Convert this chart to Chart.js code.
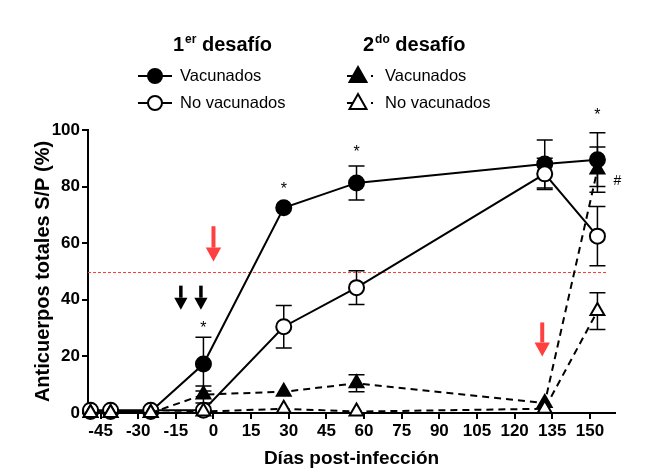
<!DOCTYPE html>
<html>
<head>
<meta charset="utf-8">
<script src="https://cdn.jsdelivr.net/npm/chart.js@4.4.1/dist/chart.umd.min.js"></script>
<style>
  body { margin: 0; background: #fff; }
</style>
</head>
<body>
<canvas id="chart" width="664" height="476"></canvas>
<script>
// days post-infection for every series
const days = [-49, -41, -25, -4, 28, 57, 132, 153];

// 1er desafío
const vacunados1 = [0.5, 0.5, 0.5, 17.3, 72.5, 81.3, 88, 89.5];
const vacunados1Err = [0, 0, 0, 9.5, 0, 6, 8.5, 9.5];
const noVacunados1 = [1, 1, 1, 1, 30.5, 44.3, 84.5, 62.5];
const noVacunados1Err = [0, 0, 0, 0, 7.5, 6, 5.5, 10.5];

// 2do desafío
const vacunados2 = [0, 0, 0, 6.5, 7.5, 10.5, 3.5, 86];
const vacunados2Err = [0, 0, 0, 3, 0, 3, 0, 8];
const noVacunados2 = [0, 0, 0, 0.5, 1.5, 0.5, 1.5, 36];
const noVacunados2Err = [0, 0, 0, 0, 0, 0, 0, 6.5];

const xTicks = [-45, -30, -15, 0, 15, 30, 45, 60, 75, 90, 105, 120, 135, 150];
const yTicks = [0, 20, 40, 60, 80, 100];

// significance marks, arrows
const stars = [[-4, 31], [28, 80], [57, 93], [153, 106]];
const hashMark = [161, 82];
const blackArrows = [[-13, 45, 36.5], [-5, 45, 36.5]];
const redArrows = [[0, 66, 53.5], [131, 32, 20]];

const FONT = "'Liberation Sans', Arial, sans-serif";

function pts(vals) {
  return days.map((d, i) => ({ x: d, y: vals[i] }));
}

const errorBars = {
  id: 'errorBars',
  beforeDatasetsDraw(chart) {
    const { ctx, scales: { x, y } } = chart;
    ctx.save();
    ctx.strokeStyle = '#000';
    ctx.lineWidth = 1.5;
    chart.data.datasets.forEach(ds => {
      ds.data.forEach((p, i) => {
        const e = ds.errors[i];
        if (!e) return;
        const px = x.getPixelForValue(p.x);
        const t = y.getPixelForValue(p.y + e);
        const b = y.getPixelForValue(p.y - e);
        ctx.beginPath();
        ctx.moveTo(px, t); ctx.lineTo(px, b);
        ctx.moveTo(px - 8, t); ctx.lineTo(px + 8, t);
        ctx.moveTo(px - 8, b); ctx.lineTo(px + 8, b);
        ctx.stroke();
      });
    });
    ctx.restore();
  }
};

function arrow(ctx, x, y1, y2, color, w, head) {
  ctx.fillStyle = color;
  ctx.strokeStyle = color;
  ctx.lineWidth = w;
  ctx.beginPath();
  ctx.moveTo(x, y1); ctx.lineTo(x, y2 - head);
  ctx.stroke();
  ctx.beginPath();
  ctx.moveTo(x - head * 0.55, y2 - head);
  ctx.lineTo(x + head * 0.55, y2 - head);
  ctx.lineTo(x, y2);
  ctx.closePath();
  ctx.fill();
}

const marks = {
  id: 'marks',
  beforeDatasetsDraw(chart) {
    const { ctx, scales: { x, y } } = chart;
    const ry = Math.round(y.getPixelForValue(50)) + 0.5;
    ctx.save();
    ctx.strokeStyle = '#ff3b3b';
    ctx.lineWidth = 1;
    ctx.setLineDash([3, 2]);
    ctx.beginPath();
    ctx.moveTo(x.getPixelForValue(-50), ry);
    ctx.lineTo(x.getPixelForValue(157), ry);
    ctx.stroke();
    ctx.restore();
  },
  afterDraw(chart) {
    const { ctx, scales: { x, y } } = chart;
    ctx.save();
    blackArrows.forEach(a => arrow(ctx, x.getPixelForValue(a[0]), y.getPixelForValue(a[1]), y.getPixelForValue(a[2]), '#000', 3.5, 12));
    redArrows.forEach(a => arrow(ctx, x.getPixelForValue(a[0]), y.getPixelForValue(a[1]), y.getPixelForValue(a[2]), '#ff4040', 4, 14));
    ctx.fillStyle = '#000';
    ctx.textAlign = 'center';
    ctx.textBaseline = 'middle';
    ctx.font = '16px ' + FONT;
    stars.forEach(s => ctx.fillText('*', x.getPixelForValue(s[0]), y.getPixelForValue(s[1]) + 3));
    ctx.font = '14px ' + FONT;
    ctx.fillText('#', x.getPixelForValue(hashMark[0]), y.getPixelForValue(hashMark[1]));
    ctx.restore();
  }
};

function legendMarker(ctx, shape, filled, cx, cy, dashed) {
  ctx.save();
  ctx.strokeStyle = '#000';
  ctx.lineWidth = 2;
  ctx.beginPath();
  if (dashed) {
    ctx.moveTo(cx - 11, cy); ctx.lineTo(cx, cy);
  } else {
    ctx.moveTo(cx - 17, cy); ctx.lineTo(cx + 17, cy);
  }
  ctx.stroke();
  if (dashed) {
    ctx.fillStyle = '#000';
    ctx.fillRect(cx + 13, cy - 1, 2, 2);
  }
  ctx.beginPath();
  if (shape === 'circle') {
    ctx.arc(cx, cy, 7, 0, Math.PI * 2);
  } else {
    ctx.moveTo(cx, cy - 9);
    ctx.lineTo(cx + 8.5, cy + 6);
    ctx.lineTo(cx - 8.5, cy + 6);
    ctx.closePath();
  }
  ctx.fillStyle = filled ? '#000' : '#fff';
  ctx.fill();
  ctx.stroke();
  ctx.restore();
}

function supTitle(ctx, x, base, num, sup, rest) {
  ctx.font = 'bold 20px ' + FONT;
  ctx.fillText(num, x, base);
  let w = ctx.measureText(num).width;
  ctx.font = 'bold 12px ' + FONT;
  ctx.fillText(sup, x + w + 1, base - 8);
  w += ctx.measureText(sup).width + 1;
  ctx.font = 'bold 20px ' + FONT;
  ctx.fillText(rest, x + w, base);
}

const legendBlock = {
  id: 'legendBlock',
  afterDraw(chart) {
    const ctx = chart.ctx;
    ctx.save();
    ctx.fillStyle = '#000';
    ctx.textAlign = 'left';
    ctx.textBaseline = 'alphabetic';
    supTitle(ctx, 173, 51, '1', 'er', ' desafío');
    supTitle(ctx, 363, 51, '2', 'do', ' desafío');
    legendMarker(ctx, 'circle', true, 155, 76, false);
    legendMarker(ctx, 'circle', false, 155, 103, false);
    legendMarker(ctx, 'triangle', true, 358, 76, true);
    legendMarker(ctx, 'triangle', false, 358, 103, true);
    ctx.fillStyle = '#000';
    ctx.font = '16.5px ' + FONT;
    ctx.textBaseline = 'middle';
    ctx.fillText('Vacunados', 180, 76);
    ctx.fillText('No vacunados', 180, 103);
    ctx.fillText('Vacunados', 385, 76);
    ctx.fillText('No vacunados', 385, 103);
    ctx.restore();
  }
};

new Chart(document.getElementById('chart'), {
  type: 'line',
  data: {
    datasets: [
      {
        label: '2do desafío No vacunados',
        data: pts(noVacunados2), errors: noVacunados2Err,
        borderColor: '#000', borderWidth: 2, borderDash: [7, 5],
        pointStyle: 'triangle', pointRadius: 8, pointBorderWidth: 2,
        pointBackgroundColor: '#fff', pointBorderColor: '#000',
        order: 0
      },
      {
        label: '2do desafío Vacunados',
        data: pts(vacunados2), errors: vacunados2Err,
        borderColor: '#000', borderWidth: 2, borderDash: [7, 5],
        pointStyle: 'triangle', pointRadius: 8, pointBorderWidth: 2,
        pointBackgroundColor: '#000', pointBorderColor: '#000',
        order: 1
      },
      {
        label: '1er desafío No vacunados',
        data: pts(noVacunados1), errors: noVacunados1Err,
        borderColor: '#000', borderWidth: 2,
        pointStyle: 'circle', pointRadius: 7.5, pointBorderWidth: 2,
        pointBackgroundColor: '#fff', pointBorderColor: '#000',
        order: 2
      },
      {
        label: '1er desafío Vacunados',
        data: pts(vacunados1), errors: vacunados1Err,
        borderColor: '#000', borderWidth: 2,
        pointStyle: 'circle', pointRadius: 7.5, pointBorderWidth: 2,
        pointBackgroundColor: '#000', pointBorderColor: '#000',
        order: 3
      }
    ]
  },
  options: {
    responsive: false,
    animation: false,
    clip: false,
    layout: { padding: { top: 130, right: 49, left: 0, bottom: 0 } },
    plugins: { legend: { display: false }, tooltip: { enabled: false } },
    elements: { line: { tension: 0, fill: false } },
    scales: {
      x: {
        type: 'linear', min: -50, max: 160,
        afterBuildTicks: s => { s.ticks = xTicks.map(v => ({ value: v })); },
        afterFit: s => { s.height = 63; },
        grid: { drawOnChartArea: false, drawTicks: true, tickLength: 6, color: '#000', lineWidth: 2 },
        border: { color: '#000', width: 2 },
        ticks: { color: '#000', font: { family: FONT, size: 17, weight: 'bold' }, padding: 2, maxRotation: 0, autoSkip: false },
        title: { display: true, text: 'Días post-infección', color: '#000', font: { family: FONT, size: 19, weight: 'bold' }, padding: { top: 0, bottom: 6 } }
      },
      y: {
        min: 0, max: 100,
        afterBuildTicks: s => { s.ticks = yTicks.map(v => ({ value: v })); },
        afterFit: s => { s.width = 88; },
        grid: { drawOnChartArea: false, drawTicks: true, tickLength: 6, color: '#000', lineWidth: 2 },
        border: { color: '#000', width: 2 },
        ticks: { color: '#000', font: { family: FONT, size: 17, weight: 'bold' }, padding: 2 },
        title: { display: true, text: 'Anticuerpos totales S/P (%)', color: '#000', font: { family: FONT, size: 20, weight: 'bold' }, padding: { top: 31, bottom: 0 } }
      }
    }
  },
  plugins: [errorBars, marks, legendBlock]
});
</script>
</body>
</html>
